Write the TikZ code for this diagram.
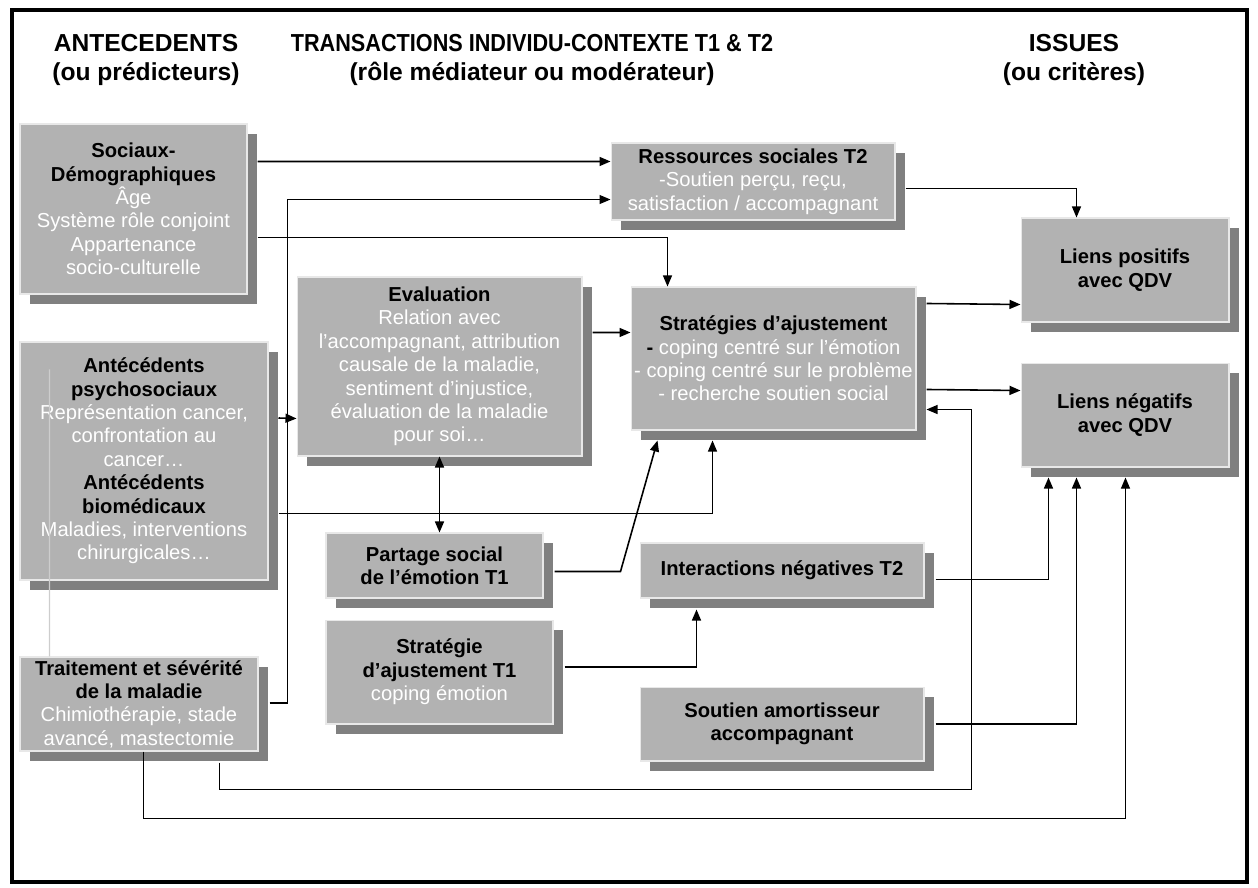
\documentclass[tikz,border=0pt]{standalone}
\usepackage{fontspec}
\setmainfont{Liberation Sans}
\newfontfamily\condfont[FakeStretch=0.88]{Liberation Sans}
\usetikzlibrary{arrows.meta,positioning,calc,shadows}
\definecolor{boxgray}{RGB}{178,178,178}
\definecolor{shadowgray}{RGB}{128,128,128}
\definecolor{boxedge}{RGB}{232,232,232}
\definecolor{guidegray}{RGB}{205,205,205}
\newcommand{\hd}[1]{\textcolor{black}{\bfseries #1}}

\begin{document}
\begin{tikzpicture}[
  x=0.02cm, y=-0.02cm,
  box/.style={rectangle, fill=boxgray, draw=boxedge, line width=0.6pt, inner sep=0pt, align=center, text=white, font=\fontsize{11.5}{13.3}\selectfont, drop shadow={shadow xshift=2mm, shadow yshift=-2mm, fill=shadowgray, opacity=1}},
  hbox/.style={box, text=black, font=\fontsize{11.5}{13.3}\selectfont\bfseries},
  title/.style={align=center, font=\fontsize{14}{17}\selectfont\bfseries},
  arr/.style={-{Triangle[length=2.2mm, width=1.8mm]}, line width=0.9pt},
  link/.style={-{Triangle[length=2.2mm, width=1.8mm]}, line width=0.6pt}
]
  \useasboundingbox (0,0) rectangle (1258,888);
  \draw[line width=2.8pt] (12,10) rectangle (1247,882);

  % column titles
  \node[title] (tante) at (146,60) {ANTECEDENTS\\(ou prédicteurs)};
  \node[title] (ttrans) at (532,60) {{\condfont TRANSACTIONS INDIVIDU-CONTEXTE T1 \& T2}\\(rôle médiateur ou modérateur)};
  \node[title] (tissues) at (1074,60) {ISSUES\\(ou critères)};

  % antecedents
  \node[box, minimum width=4.54cm, minimum height=3.4cm] (soc) at (133.5,209)
    {\hd{Sociaux-}\\\hd{Démographiques}\\Âge\\Système rôle conjoint\\Appartenance\\socio-culturelle};
  \node[box, minimum width=4.96cm, minimum height=4.76cm] (ante) at (144,461)
    {\hd{Antécédents}\\\hd{psychosociaux}\\Représentation cancer,\\confrontation au\\cancer…\\\hd{Antécédents}\\\hd{biomédicaux}\\Maladies, interventions\\chirurgicales…};
  \node[box, minimum width=4.76cm, minimum height=1.88cm] (trait) at (139,704)
    {\hd{Traitement et sévérité}\\\hd{de la maladie}\\Chimiothérapie, stade\\avancé, mastectomie};

  % transactions
  \node[box, minimum width=5.7cm, minimum height=3.58cm] (eval) at (439.5,366.5)
    {\hd{Evaluation}\\Relation avec\\l’accompagnant, attribution\\causale de la maladie,\\sentiment d’injustice,\\évaluation de la maladie\\pour soi…};
  \node[hbox, minimum width=4.34cm, minimum height=1.3cm] (partage) at (434.5,565.5)
    {Partage social\\de l’émotion T1};
  \node[box, minimum width=4.54cm, minimum height=2.08cm, below right=0.42cm and 0cm of partage.south west] (stratT)
    {\hd{Stratégie}\\\hd{d’ajustement T1}\\coping émotion};
  \node[box, minimum width=5.68cm, minimum height=1.54cm] (ress) at (753,181.5)
    {\hd{Ressources sociales T2}\\-Soutien perçu, reçu,\\satisfaction / accompagnant};
  \node[box, minimum width=5.7cm, minimum height=2.86cm] (strat) at (773.5,358.5)
    {\hd{Stratégies d’ajustement}\\\hd{-} coping centré sur l’émotion\\- coping centré sur le problème\\- recherche soutien social};
  \node[hbox, minimum width=5.68cm, minimum height=1.1cm] (inter) at (782,570.5)
    {Interactions négatives T2};
  \node[hbox, minimum width=5.68cm, minimum height=1.48cm, below=1.76cm of inter] (soutien)
    {Soutien amortisseur\\accompagnant};

  % issues
  \node[hbox, minimum width=4.16cm, minimum height=2.08cm] (lpos) at (1125,270)
    {Liens positifs\\avec QDV};
  \node[hbox, minimum width=4.16cm, minimum height=2.08cm, below=0.8cm of lpos] (lneg)
    {Liens négatifs\\avec QDV};

  \draw[guidegray, line width=0.6pt] ($(ante.north west)+(30,28)$) -- ($(trait.north west)+(30,0)$);

  % links
  \draw[arr] ($(soc.north east)+(10,38)$) -- ($(ress.north west)+(0,19)$);
  \draw[link] ($(trait.east)+(11,-1)$) -- ++(18,0) |- ($(ress.south west)+(0,-21)$);
  \draw[link] ($(soc.south east)+(10,-57)$) -| ($(strat.north west)+(37,0)$);
  \draw[arr] ($(ante.east)+(10,-43)$) -- ($(eval.south west)+(0,-38)$);
  \draw[arr, {Triangle[length=2.2mm, width=1.8mm]}-{Triangle[length=2.2mm, width=1.8mm]}] (eval.south) -- (eval.south |- partage.north);
  \draw[arr] ($(eval.north east)+(10,56)$) -- ($(strat.north west)+(0,46)$);
  \draw[link] ($(ante.south east)+(10,-67)$) -| ($(strat.south west)+(82,10)$);
  \draw[arr] ($(partage.east)+(11,6)$) -- ++(66,0) -- ($(strat.south west)+(27,10)$);
  \draw[arr] ($(stratT.east)+(11,-5)$) -| ($(inter.south west)+(57,11)$);
  \draw[link] ($(ress.east)+(10,7)$) -| ($(lpos.north west)+(56,0)$);
  \draw[arr] ($(strat.north east)+(10,17)$) -- ($(lpos.south west)+(0,-18)$);
  \draw[arr] ($(strat.north east)+(10,103)$) -- ($(lneg.north west)+(0,28)$);
  \draw[arr] ($(inter.east)+(11,9)$) -| ($(lneg.south west)+(28,10)$);
  \draw[arr] ($(soutien.east)+(11,0)$) -| ($(lneg.south west)+(56,10)$);
  \draw[link] ($(trait.south west)+(124,0)$) -- ++(0,67) -| ($(lneg.south west)+(105,10)$);
  \draw[link] ($(trait.south west)+(200,11)$) -- ++(0,27) -- ++(752,0) |- ($(strat.south east)+(10,-21)$);
\end{tikzpicture}
\end{document}
